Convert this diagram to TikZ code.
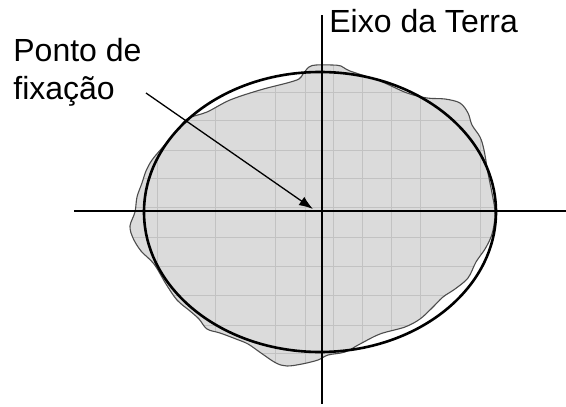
\documentclass[tikz,border=0pt]{standalone}
\usepackage{fontspec}
\setmainfont{Liberation Sans}
\usetikzlibrary{positioning, arrows.meta, calc}

\begin{document}
\begin{tikzpicture}[x=1pt, y=-1pt, >={Latex[length=14pt,width=10pt]}, thick,
		eixo/.style={draw=black, line width=1.4pt},
		grade/.style={draw=black!24, line width=0.8pt},
		rotulo/.style={inner sep=0pt, font=\fontsize{32}{38}\selectfont, align=left}]
		\useasboundingbox (0,0) rectangle (566,407);
		\coordinate (centro) at (320,212);
		\coordinate (eixoE) at (74,211);
		\coordinate (eixoD) at (566,211);
		\coordinate (eixoN) at (322,15);
		\coordinate (eixoS) at (322,404);
		
		% forma irregular (geoide)
		\path[save path=\geoide] plot[smooth cycle, tension=0.55] coordinates {
			(303,74) (309,67) (316,65) (332,65) (341,66) (350,71) (380,81) (407,93)
			(427,98) (445,99) (460,103) (468,113) (472,125) (480,137) (484,150)
			(488,173) (492,193) (495,211) (494,225) (491,237) (485,249) (476,262)
			(468,278) (455,289) (443,297) (432,308) (420,319) (405,327) (380,334)
			(360,344) (345,352) (328,355) (318,360) (302,364) (287,366) (276,363)
			(261,353) (248,344) (236,339) (220,333) (207,329) (199,319) (190,311)
			(177,300) (166,284) (154,264) (141,251) (133,238) (130,226) (135,212)
			(137,197) (142,183) (146,171) (152,160) (162,148) (175,133) (187,119)
			(207,112) (230,100) (260,90) (287,83) (299,79)};
		\fill[black!14, use path=\geoide];
		\begin{scope}
			\clip[use path=\geoide];
			\foreach \x in {157,215,275,305,333,362,391,420,480}
				\draw[grade] (\x,50) -- (\x,380);
			\foreach \y in {92,120,150,178,207,237,266,295,325,353}
				\draw[grade] (120,\y) -- (510,\y);
		\end{scope}
		\draw[black!70, line width=1.1pt, use path=\geoide];
		
		% elipse de referencia
		\draw[line width=2.6pt] (centro) ellipse [x radius=176pt, y radius=140pt];
		
		\draw[eixo] (eixoE) -- (eixoD);
		\draw[eixo] (eixoN) -- (eixoS);
		
		\node[rotulo, anchor=base west] (terra) at (329,32) {Eixo da Terra};
		\node[rotulo, anchor=north west] (ponto) at (13,38) {Ponto de\\fixação};
		
		\coordinate (inicio) at (146,93);
		\coordinate (fixacao) at (313,209);
		\draw[->, line width=1.3pt] (inicio) -- (fixacao);
	\end{tikzpicture}
\end{document}
